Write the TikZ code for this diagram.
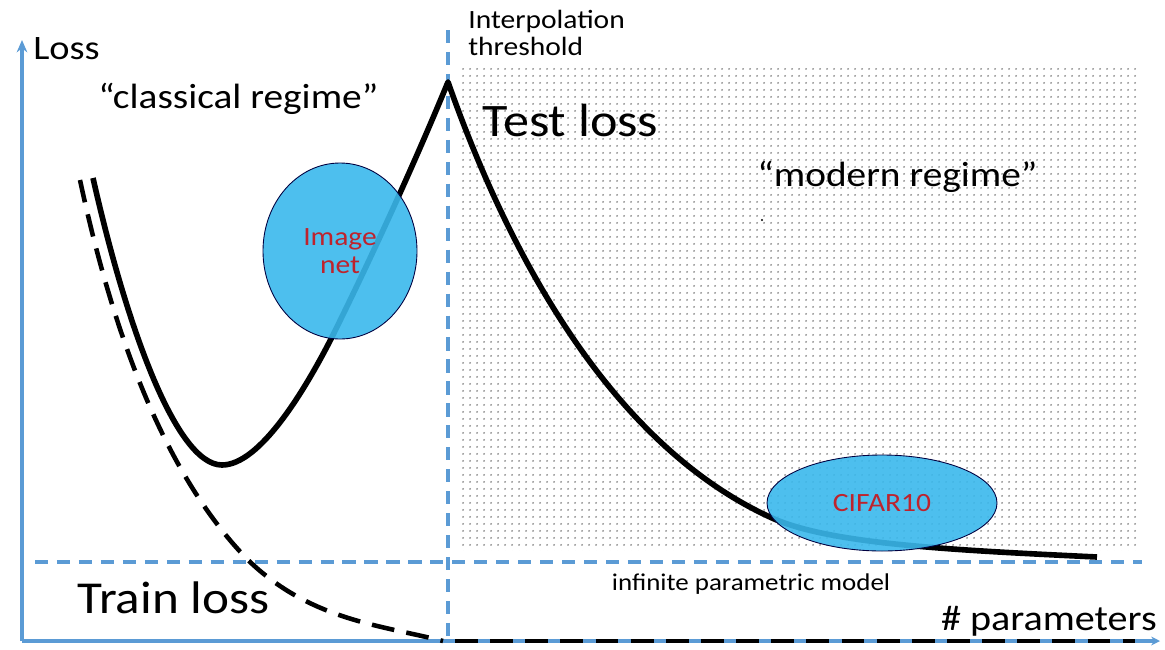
\documentclass[tikz,border=0pt]{standalone}
\usepackage{fontspec}
\setmainfont{Carlito}[FakeStretch=1.12]
\usetikzlibrary{shapes.geometric,patterns.meta,arrows.meta}

\definecolor{axisblue}{RGB}{91,155,213}
\definecolor{blobblue}{RGB}{58,184,236}
\definecolor{netred}{RGB}{190,35,45}

\begin{document}
\begin{tikzpicture}[x=0.02cm,y=-0.02cm,>=Stealth,line cap=butt,
    axis/.style={axisblue,line width=2pt},
    guide/.style={axisblue,line width=1.8pt,dash pattern=on 7.5pt off 5pt},
    test curve/.style={black,line width=3.2pt,line join=round},
    train curve/.style={black,line width=2.6pt,dash pattern=on 13pt off 7pt},
    blob/.style={ellipse,draw=blue!25!black,line width=0.5pt,fill=blobblue,fill opacity=0.9,text opacity=1,text=netred,align=center,inner sep=0pt,font=\fontsize{15}{16}\selectfont},
    word/.style={inner sep=0pt,text=black}]

    \useasboundingbox (0,0) rectangle (1165,649);

    % dotted background of the modern regime
    \fill[pattern={Dots[radius=0.6pt,distance=4pt]},pattern color=black!50] (462,68) rectangle (1140,550);

    \coordinate (origin) at (22,641);
    \coordinate (ytop) at (22,40);
    \coordinate (xend) at (1160,641);
    \coordinate (th top) at (448,30);
    \coordinate (th bot) at (448,641);
    \coordinate (inf left) at (35,562);
    \coordinate (inf right) at (1142,562);

    % guide lines
    \draw[guide] (th top) -- (th bot);
    \draw[guide] (inf left) -- (inf right);

    % axes
    \draw[axis,-{Stealth[length=7pt,width=6pt]}] (origin) -- (ytop);
    \draw[axis,-{Stealth[length=5pt,width=5pt]}] (origin) -- (xend);

    % train loss
    \draw[train curve] (80,180) .. controls (110,320) and (160,470) .. (248,560)
        .. controls (310,620) and (380,625) .. (443,641);
    \draw[train curve] (455,641) -- (1135,641);

    % test loss
    \draw[test curve] (93,178) .. controls (125,320) and (175,465) .. (222,465)
        .. controls (260,465) and (305,390) .. (332,337)
        .. controls (380,240) and (420,150) .. (448,82)
        .. controls (500,230) and (600,440) .. (772,518)
        .. controls (830,544) and (950,550) .. (1097,557);

    % data sets
    \node[blob,minimum width=154*0.02cm,minimum height=176*0.02cm] (imagenet) at (340,251) {Image\\net};
    \node[blob,minimum width=230*0.02cm,minimum height=96*0.02cm] (cifar) at (882,503) {CIFAR10};

    % labels
    \node[word,anchor=base west,font=\fontsize{19.5}{22}\selectfont] (loss) at (33,59) {Loss};
    \node[word,anchor=base west,font=\fontsize{20}{22}\selectfont] (classical) at (98,108) {“classical regime”};
    \node[word,anchor=base west,align=left,font=\fontsize{15}{15.3}\selectfont] (threshold) at (468,55) {Interpolation\\threshold};
    \node[word,anchor=base west,font=\fontsize{26.5}{30}\selectfont] (test) at (482,136) {Test loss};
    \node[word,anchor=base west,font=\fontsize{20}{22}\selectfont] (modern) at (757,186) {“modern regime”};
    \node[word,anchor=base west,font=\fontsize{26}{30}\selectfont] (train) at (77,613) {Train loss};
    \node[word,anchor=base,font=\fontsize{13.7}{15}\selectfont] (infinite) at (751,590) {infinite parametric model};
    \node[word,anchor=base east,font=\fontsize{20.4}{22}\selectfont] (params) at (1157,630) {\# parameters};
    \fill (762,220) circle (0.7pt);
\end{tikzpicture}
\end{document}
